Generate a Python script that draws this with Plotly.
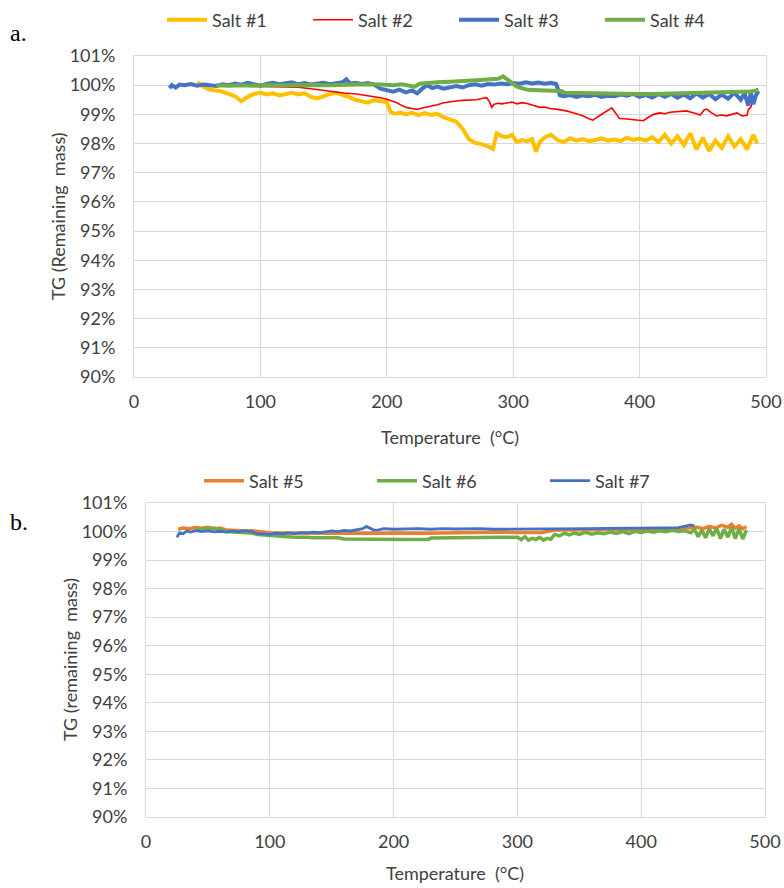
import plotly.graph_objects as go

# ---- Panel a: TG curves, Salt #1 - #4 ----
t_s1 = [50, 55, 60, 65, 70, 75, 80, 85, 90, 95, 100, 105, 110, 115, 120, 125, 130, 135, 140, 145,
        150, 155, 160, 165, 170, 175, 180, 185, 190, 195, 200, 203, 207, 211, 215, 220, 225, 230, 235, 240,
        245, 250, 255, 260, 265, 270, 275, 280, 284, 287, 291, 295, 299, 303, 307, 311, 315, 318, 321, 325,
        330, 335, 340, 345, 350, 355, 360, 365, 370, 375, 380, 385, 390, 395, 400, 405, 410, 415, 420, 425,
        430, 435, 440, 445, 450, 455, 460, 465, 470, 475, 480, 485, 490, 493]
v_s1 = [100.1, 99.95, 99.85, 99.82, 99.78, 99.7, 99.62, 99.45, 99.6, 99.7, 99.75, 99.68, 99.72, 99.65, 99.7, 99.74, 99.68, 99.72, 99.6, 99.55,
        99.62, 99.7, 99.74, 99.68, 99.6, 99.5, 99.45, 99.4, 99.48, 99.44, 99.42, 99.08, 99.02, 99.06, 99.0, 99.05, 98.97, 99.04, 98.98, 99.02,
        98.9, 98.82, 98.75, 98.5, 98.15, 98.02, 97.98, 97.9, 97.82, 98.35, 98.25, 98.22, 98.3, 98.05, 98.12, 98.08, 98.15, 97.72, 98.05, 98.22,
        98.3, 98.12, 98.05, 98.18, 98.1, 98.15, 98.08, 98.12, 98.18, 98.1, 98.14, 98.08, 98.2, 98.12, 98.16, 98.1, 98.22, 98.05, 98.3, 98.0,
        98.25, 97.95, 98.35, 97.8, 98.2, 97.75, 98.1, 97.85, 98.25, 97.9, 98.15, 97.8, 98.3, 98.0]

t_s2 = [45, 60, 80, 100, 120, 130, 140, 150, 158, 166, 176, 182, 187, 192, 195, 200, 204, 208, 212, 216,
        220, 224, 228, 234, 240, 245, 250, 255, 260, 265, 271, 276, 279, 281, 283, 285, 288, 291, 295, 299,
        303, 307, 311, 316, 321, 325, 329, 335, 342, 348, 355, 360, 363, 367, 371, 375, 378, 381, 384, 388,
        394, 400, 403, 407, 411, 416, 420, 424, 430, 437, 443, 448, 451, 453, 457, 461, 465, 469, 473, 477,
        481, 485, 486, 488, 489, 491]
v_s2 = [100.0, 99.98, 99.97, 99.96, 99.95, 99.93, 99.88, 99.82, 99.78, 99.73, 99.7, 99.66, 99.62, 99.6, 99.57, 99.52, 99.45, 99.4, 99.3, 99.23,
        99.2, 99.17, 99.22, 99.27, 99.33, 99.4, 99.44, 99.46, 99.48, 99.5, 99.5, 99.55, 99.57, 99.45, 99.24, 99.35, 99.38, 99.36, 99.4, 99.42,
        99.36, 99.4, 99.37, 99.3, 99.24, 99.25, 99.2, 99.17, 99.12, 99.05, 98.95, 98.85, 98.8, 98.92, 99.02, 99.15, 99.22, 99.05, 98.86, 98.85,
        98.82, 98.8, 98.78, 98.9, 99.0, 99.05, 99.02, 99.07, 99.1, 99.12, 99.05, 98.98, 99.15, 99.18, 99.05, 98.95, 98.98, 98.95, 99.0, 99.05,
        98.95, 98.97, 99.15, 99.25, 99.38, 99.5]

t_s3 = [28, 30, 33, 36, 40, 45, 50, 55, 60, 65, 70, 75, 80, 85, 90, 95, 100, 105, 110, 115,
        120, 125, 130, 135, 140, 145, 150, 155, 160, 165, 168, 171, 175, 180, 185, 190, 195, 200, 205, 210,
        215, 220, 224, 228, 232, 236, 240, 245, 250, 255, 260, 265, 270, 275, 280, 285, 290, 295, 300, 305,
        310, 315, 320, 325, 330, 334, 337, 340, 345, 350, 355, 360, 365, 370, 375, 380, 385, 390, 395, 400,
        405, 410, 415, 420, 425, 430, 435, 440, 445, 450, 455, 460, 465, 470, 475, 480, 483, 486, 488, 490,
        492, 494]
v_s3 = [99.9, 100.0, 99.92, 100.02, 100.0, 100.04, 99.98, 100.02, 100.0, 99.97, 100.03, 100.0, 100.06, 100.02, 100.08, 100.03, 99.98, 100.04, 100.08, 100.03,
        100.06, 100.1, 100.03, 100.07, 100.02, 100.06, 100.08, 100.03, 100.07, 100.1, 100.2, 100.05, 100.08, 100.04, 100.07, 100.02, 99.88, 99.84, 99.78, 99.85,
        99.75, 99.82, 99.72, 99.88, 100.0, 99.9, 99.95, 99.88, 99.93, 99.97, 99.92, 100.0, 100.03, 99.98, 100.04, 100.02, 100.06, 100.03, 100.07, 100.05,
        100.1, 100.06, 100.09, 100.05, 100.08, 100.04, 99.65, 99.62, 99.66, 99.6, 99.65, 99.62, 99.67, 99.6, 99.64, 99.62, 99.68, 99.64, 99.7, 99.6,
        99.66, 99.58, 99.7, 99.6, 99.7, 99.57, 99.68, 99.55, 99.72, 99.57, 99.7, 99.52, 99.68, 99.54, 99.74, 99.5, 99.72, 99.3, 99.75, 99.35,
        99.65, 99.8]

t_s4 = [65, 75, 85, 95, 105, 115, 125, 135, 145, 155, 165, 175, 185, 195, 205, 212, 218, 222, 226, 232,
        240, 250, 258, 266, 274, 282, 288, 292, 295, 299, 303, 308, 312, 320, 330, 338, 341, 350, 360, 370,
        380, 390, 400, 410, 420, 430, 440, 450, 460, 470, 480, 488, 492, 494]
v_s4 = [100.0, 99.98, 100.0, 99.98, 100.0, 100.01, 99.99, 100.0, 100.01, 100.0, 100.02, 100.01, 100.03, 100.02, 100.0, 100.03, 99.98, 99.95, 100.05, 100.08,
        100.1, 100.12, 100.15, 100.17, 100.18, 100.2, 100.22, 100.3, 100.2, 100.05, 99.95, 99.88, 99.84, 99.83, 99.83, 99.8, 99.74, 99.73, 99.73, 99.72,
        99.72, 99.7, 99.7, 99.7, 99.71, 99.71, 99.72, 99.72, 99.73, 99.74, 99.76, 99.78, 99.82, 99.85]

# ---- Panel b: TG curves, Salt #5 - #7 ----
t_s5 = [26, 30, 35, 40, 45, 50, 55, 60, 65, 70, 75, 80, 85, 90, 95, 100, 110, 120, 130, 140,
        150, 160, 170, 180, 190, 200, 210, 220, 230, 240, 250, 260, 270, 280, 290, 300, 310, 320, 330, 340,
        350, 360, 370, 380, 390, 400, 410, 420, 430, 440, 445, 450, 455, 460, 465, 470, 473, 476, 479, 482,
        485]
v_s5 = [100.08, 100.12, 100.1, 100.14, 100.12, 100.15, 100.1, 100.12, 100.05, 100.03, 100.04, 100.02, 100.03, 100.0, 99.97, 99.96, 99.95, 99.94, 99.95, 99.93,
        99.94, 99.95, 99.94, 99.93, 99.94, 99.95, 99.94, 99.95, 99.94, 99.95, 99.96, 99.97, 99.96, 99.97, 99.98, 99.97, 99.98, 99.97, 100.05, 100.06,
        100.07, 100.08, 100.07, 100.08, 100.09, 100.08, 100.1, 100.09, 100.1, 100.12, 100.15, 100.1, 100.18, 100.12, 100.22, 100.15, 100.25, 100.12, 100.2, 100.1,
        100.18]

t_s6 = [40, 45, 50, 55, 60, 65, 70, 75, 80, 85, 90, 95, 100, 105, 110, 115, 120, 130, 135, 145,
        155, 160, 170, 180, 190, 200, 210, 220, 228, 230, 240, 250, 260, 270, 280, 290, 300, 303, 306, 309,
        312, 315, 318, 321, 324, 327, 330, 334, 338, 342, 346, 350, 355, 360, 365, 370, 375, 380, 385, 390,
        395, 400, 405, 410, 415, 420, 425, 430, 435, 440, 443, 446, 449, 452, 455, 458, 461, 464, 467, 470,
        473, 476, 479, 482, 485]
v_s6 = [100.05, 100.1, 100.08, 100.12, 100.06, 100.0, 99.98, 99.97, 99.98, 99.95, 99.9, 99.88, 99.87, 99.86, 99.85, 99.82, 99.8, 99.8, 99.78, 99.78,
        99.78, 99.74, 99.73, 99.72, 99.72, 99.72, 99.72, 99.72, 99.72, 99.77, 99.78, 99.78, 99.78, 99.79, 99.79, 99.8, 99.8, 99.72, 99.82, 99.7,
        99.76, 99.72, 99.8, 99.7, 99.76, 99.73, 99.9, 99.85, 99.94, 99.88, 99.95, 99.9, 99.97, 99.91, 99.96, 99.92, 99.98, 99.93, 100.0, 99.93,
        100.01, 99.97, 100.02, 99.98, 100.03, 99.99, 100.04, 100.0, 100.03, 99.96, 100.08, 99.82, 100.05, 99.78, 100.1, 99.85, 100.12, 99.75, 100.08, 99.8,
        100.15, 99.75, 100.1, 99.74, 100.05]

t_s7 = [25, 27, 30, 33, 36, 40, 45, 50, 55, 60, 65, 70, 75, 80, 85, 90, 95, 100, 105, 110,
        115, 120, 125, 130, 135, 140, 145, 150, 155, 160, 165, 170, 175, 178, 181, 184, 188, 192, 200, 210,
        220, 230, 240, 250, 260, 270, 280, 290, 300, 310, 320, 330, 340, 350, 360, 370, 380, 390, 400, 410,
        420, 430, 436, 440, 443]
v_s7 = [99.8, 99.95, 99.92, 100.02, 99.98, 100.03, 100.0, 100.02, 99.99, 100.01, 99.98, 100.02, 99.99, 100.03, 100.0, 99.93, 99.92, 99.9, 99.94, 99.92,
        99.95, 99.93, 99.96, 99.95, 99.98, 99.96, 99.99, 100.02, 100.0, 100.04, 100.02, 100.06, 100.1, 100.18, 100.12, 100.05, 100.06, 100.1, 100.08, 100.09,
        100.1, 100.08, 100.1, 100.09, 100.1, 100.1, 100.08, 100.08, 100.09, 100.08, 100.09, 100.09, 100.1, 100.1, 100.1, 100.11, 100.11, 100.12, 100.12, 100.12,
        100.13, 100.14, 100.18, 100.23, 100.2]

x_ticks = [0, 100, 200, 300, 400, 500]
y_ticks = list(range(90, 102))
y_tick_labels = [f"{v}%" for v in y_ticks]

FONT = "Lato, 'Open Sans', sans-serif"
TXT = "#404040"
GRID = "#D9D9D9"

W, H = 784, 888


def px_x(p):
    return p / W


def px_y(p):
    return 1 - p / H


fig = go.Figure()

series_a = [
    ("Salt #1", t_s1, v_s1, "#FFC000", 4),
    ("Salt #2", t_s2, v_s2, "#FF0000", 1.6),
    ("Salt #3", t_s3, v_s3, "#4472C4", 4),
    ("Salt #4", t_s4, v_s4, "#70AD47", 4),
]
for name, t, v, col, w in series_a:
    fig.add_trace(go.Scatter(x=t, y=v, name=name, mode="lines",
                             line=dict(color=col, width=w),
                             xaxis="x", yaxis="y", legend="legend"))

series_b = [
    ("Salt #5", t_s5, v_s5, "#ED7D31", 3.5),
    ("Salt #6", t_s6, v_s6, "#70AD47", 3.5),
    ("Salt #7", t_s7, v_s7, "#4472C4", 2.8),
]
for name, t, v, col, w in series_b:
    fig.add_trace(go.Scatter(x=t, y=v, name=name, mode="lines",
                             line=dict(color=col, width=w),
                             xaxis="x2", yaxis="y2", legend="legend2"))

tick_font = dict(family=FONT, size=18, color=TXT)
common_x = dict(range=[0, 500], tickvals=x_ticks, showgrid=True, gridcolor=GRID, gridwidth=1,
                zeroline=False, showline=True, linecolor=GRID, linewidth=1, mirror=True,
                ticks="", tickfont=tick_font, automargin=False, ticklabelstandoff=8)
common_y = dict(range=[90, 101], tickmode="array", tickvals=y_ticks, ticktext=y_tick_labels,
                showgrid=True, gridcolor=GRID, gridwidth=1, zeroline=False, showline=True,
                linecolor=GRID, linewidth=1, mirror=True, ticks="", tickfont=tick_font,
                automargin=False, ticklabelstandoff=14)

legend_common = dict(orientation="h", xanchor="left", yanchor="middle", bgcolor="rgba(0,0,0,0)",
                     font=dict(family=FONT, size=18, color=TXT), entrywidthmode="pixels",
                     itemwidth=40, tracegroupgap=0)

fig.update_layout(
    width=W, height=H,
    margin=dict(l=0, r=0, t=0, b=0),
    paper_bgcolor="white", plot_bgcolor="white",
    showlegend=True,
    xaxis=dict(domain=[px_x(134), px_x(766)], anchor="y", **common_x),
    yaxis=dict(domain=[px_y(377), px_y(56)], anchor="x", **common_y),
    xaxis2=dict(domain=[px_x(146), px_x(765)], anchor="y2", **common_x),
    yaxis2=dict(domain=[px_y(817), px_y(503)], anchor="x2", **common_y),
    legend=dict(x=px_x(162), y=px_y(20), entrywidth=91, **legend_common),
    legend2=dict(x=px_x(199), y=px_y(481), entrywidth=118, **legend_common),
)

ann_font = dict(family=FONT, size=18, color=TXT)
annotations = [
    dict(text="a.", x=px_x(8), y=px_y(33), xanchor="left", yanchor="middle",
         font=dict(family="'Liberation Serif', serif", size=24, color="black")),
    dict(text="b.", x=px_x(8), y=px_y(522), xanchor="left", yanchor="middle",
         font=dict(family="'Liberation Serif', serif", size=24, color="black")),
    dict(text="Temperature\u00a0 (\u00b0C)", x=px_x(450), y=px_y(437), xanchor="center",
         yanchor="middle", font=ann_font),
    dict(text="Temperature\u00a0 (\u00b0C)", x=px_x(455), y=px_y(873), xanchor="center",
         yanchor="middle", font=ann_font),
    dict(text="TG (Remaining\u00a0 mass)", x=px_x(58), y=px_y(216), textangle=-90,
         xanchor="center", yanchor="middle", font=ann_font),
    dict(text="TG (remaining\u00a0 mass)", x=px_x(70), y=px_y(660), textangle=-90,
         xanchor="center", yanchor="middle", font=ann_font),
]
for a in annotations:
    fig.add_annotation(xref="paper", yref="paper", showarrow=False, **a)

fig.write_html("out.html")
